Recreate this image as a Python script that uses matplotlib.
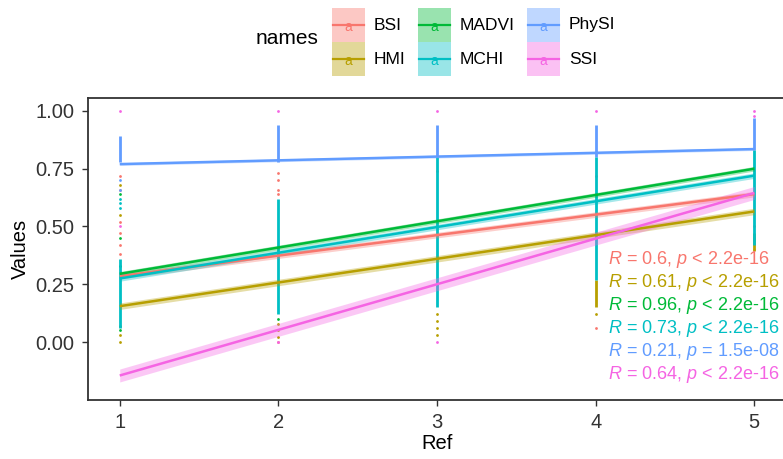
import matplotlib
matplotlib.use("Agg")
import matplotlib.pyplot as plt
from matplotlib.patches import Rectangle

plt.rcParams['font.family'] = ['Liberation Sans', 'DejaVu Sans']
plt.rcParams['mathtext.fontset'] = 'custom'
plt.rcParams['mathtext.rm'] = 'Liberation Sans'
plt.rcParams['mathtext.it'] = 'Liberation Sans:italic'

# ---------------- data ----------------
names = ["BSI", "HMI", "MADVI", "MCHI", "PhySI", "SSI"]
colors = ["#F8766D", "#B79F00", "#00BA38", "#00BFC4", "#619CFF", "#F564E3"]
ref = [1, 2, 3, 4, 5]

# fitted regression values at Ref = 1 and Ref = 5
fit_at_1 = [0.285, 0.155, 0.295, 0.275, 0.770, -0.145]
fit_at_5 = [0.640, 0.565, 0.750, 0.720, 0.835, 0.645]
# half width of confidence band at the ends
band_half = [0.012, 0.014, 0.010, 0.012, 0.006, 0.028]

# dense columns of points (low, high) per Ref
dense_PhySI = [(0.78, 0.89), (0.78, 0.94), (0.80, 0.94), (0.80, 0.94), (0.83, 0.97)]
dense_MCHI = [(0.06, 0.36), (0.12, 0.62), (0.15, 0.80), (0.27, 0.80), (0.42, 0.83)]
dense_HMI = [None, None, None, (0.15, 0.27), (0.40, 0.47)]

# sparse points per series: (Ref, value)
pts_BSI = [(1, 0.72), (1, 0.66), (1, 0.52), (1, 0.47), (1, 0.42), (1, 0.38),
           (2, 0.73), (2, 0.70), (2, 0.66), (2, 0.64), (2, 0.0),
           (3, 0.74), (4, 0.72), (4, 0.06), (5, 0.50), (5, 0.45)]
pts_HMI = [(1, 0.68), (1, 0.55), (1, 0.07), (1, 0.03), (1, 0.0),
           (2, 0.08), (2, 0.05), (2, 0.02),
           (3, 0.12), (3, 0.09), (3, 0.06), (3, 0.03),
           (4, 0.12), (5, 0.40)]
pts_MADVI = [(1, 0.64), (1, 0.45), (1, 0.33), (1, 0.05), (2, 0.10), (5, 0.44)]
pts_MCHI = [(1, 0.62), (1, 0.60), (1, 0.58)]
pts_PhySI = [(1, 0.70), (1, 0.66)]
pts_SSI = [(1, 1.0), (1, 0.50), (2, 1.0), (2, 0.0), (3, 1.0), (3, 0.0),
           (4, 1.0), (5, 1.0), (5, 0.98)]

stat_labels = [r"$\it{R}$ = 0.6, $\it{p}$ < 2.2e-16",
               r"$\it{R}$ = 0.61, $\it{p}$ < 2.2e-16",
               r"$\it{R}$ = 0.96, $\it{p}$ < 2.2e-16",
               r"$\it{R}$ = 0.73, $\it{p}$ < 2.2e-16",
               r"$\it{R}$ = 0.21, $\it{p}$ = 1.5e-08",
               r"$\it{R}$ = 0.64, $\it{p}$ < 2.2e-16"]

yticks = [0.0, 0.25, 0.5, 0.75, 1.0]
yticklabels = ["0.00", "0.25", "0.50", "0.75", "1.00"]

# ---------------- figure ----------------
W, H = 783, 459
fig = plt.figure(figsize=(W / 100, H / 100), dpi=100)
ax = fig.add_axes([88 / W, (H - 400) / H, (786 - 88) / W, (400 - 98) / H])
ax.set_xlim(0.8, 5.2)
ax.set_ylim(-0.251, 1.056)

# points
sparse = [pts_BSI, pts_HMI, pts_MADVI, pts_MCHI, pts_PhySI, pts_SSI]
for pts, c in zip(sparse, colors):
    ax.scatter([p[0] for p in pts], [p[1] for p in pts], s=4, color=c,
               linewidths=0, zorder=2)
for dense, c in [(dense_HMI, colors[1]), (dense_PhySI, colors[4]), (dense_MCHI, colors[3])]:
    for x, rng in zip(ref, dense):
        if rng is None:
            continue
        ax.vlines(x, rng[0], rng[1], color=c, lw=2.0, zorder=3)

# regression lines with bands
for i, c in enumerate(colors):
    xs = [1, 5]
    ys = [fit_at_1[i], fit_at_5[i]]
    ax.fill_between(xs, [y - band_half[i] for y in ys], [y + band_half[i] for y in ys],
                    color=c, alpha=0.35, linewidth=0, zorder=4)
    ax.plot(xs, ys, color=c, lw=1.8, zorder=5, solid_capstyle='butt')

# stat labels
for i, (lab, c) in enumerate(zip(stat_labels, colors)):
    ax.text(4.08, 0.359 - i * 0.0996, lab, color=c, fontsize=13,
            ha='left', va='center', zorder=6)

ax.set_yticks(yticks)
ax.set_yticklabels(yticklabels)
ax.set_xticks(ref)
ax.set_xticklabels([str(r) for r in ref])
ax.tick_params(axis='both', labelsize=14.5, colors='#333333', length=4, width=1)
ax.tick_params(axis='y', pad=6)
ax.tick_params(axis='x', pad=5)
for sp in ax.spines.values():
    sp.set_color('#333333')
    sp.set_linewidth(1.3)
ax.set_xlabel("Ref", fontsize=14.5, color='black', labelpad=2)
ax.set_ylabel("Values", fontsize=14.5, color='black', labelpad=4)

# ---------------- legend (drawn in pixel space) ----------------
lax = fig.add_axes([0, 0, 1, 1])
lax.set_xlim(0, W)
lax.set_ylim(H, 0)
lax.axis('off')
lax.text(256, 39, "names", fontsize=15, ha='left', va='center', color='black')
key_x = [332, 332, 418, 418, 527, 527]
key_y = [8, 42, 8, 42, 8, 42]
for i, (n, c) in enumerate(zip(names, colors)):
    kx, ky = key_x[i], key_y[i]
    lax.add_patch(Rectangle((kx, ky), 33, 34, facecolor=c, alpha=0.4,
                            edgecolor='none'))
    lax.plot([kx + 1, kx + 32], [ky + 17, ky + 17], color=c, lw=1.6)
    lax.text(kx + 16.5, ky + 19, "a", color=c, fontsize=10, ha='center',
             va='center')
    lax.text(kx + 42, ky + 17, n, fontsize=12.5, ha='left', va='center',
             color='black')

fig.savefig("out.png", dpi=100)
